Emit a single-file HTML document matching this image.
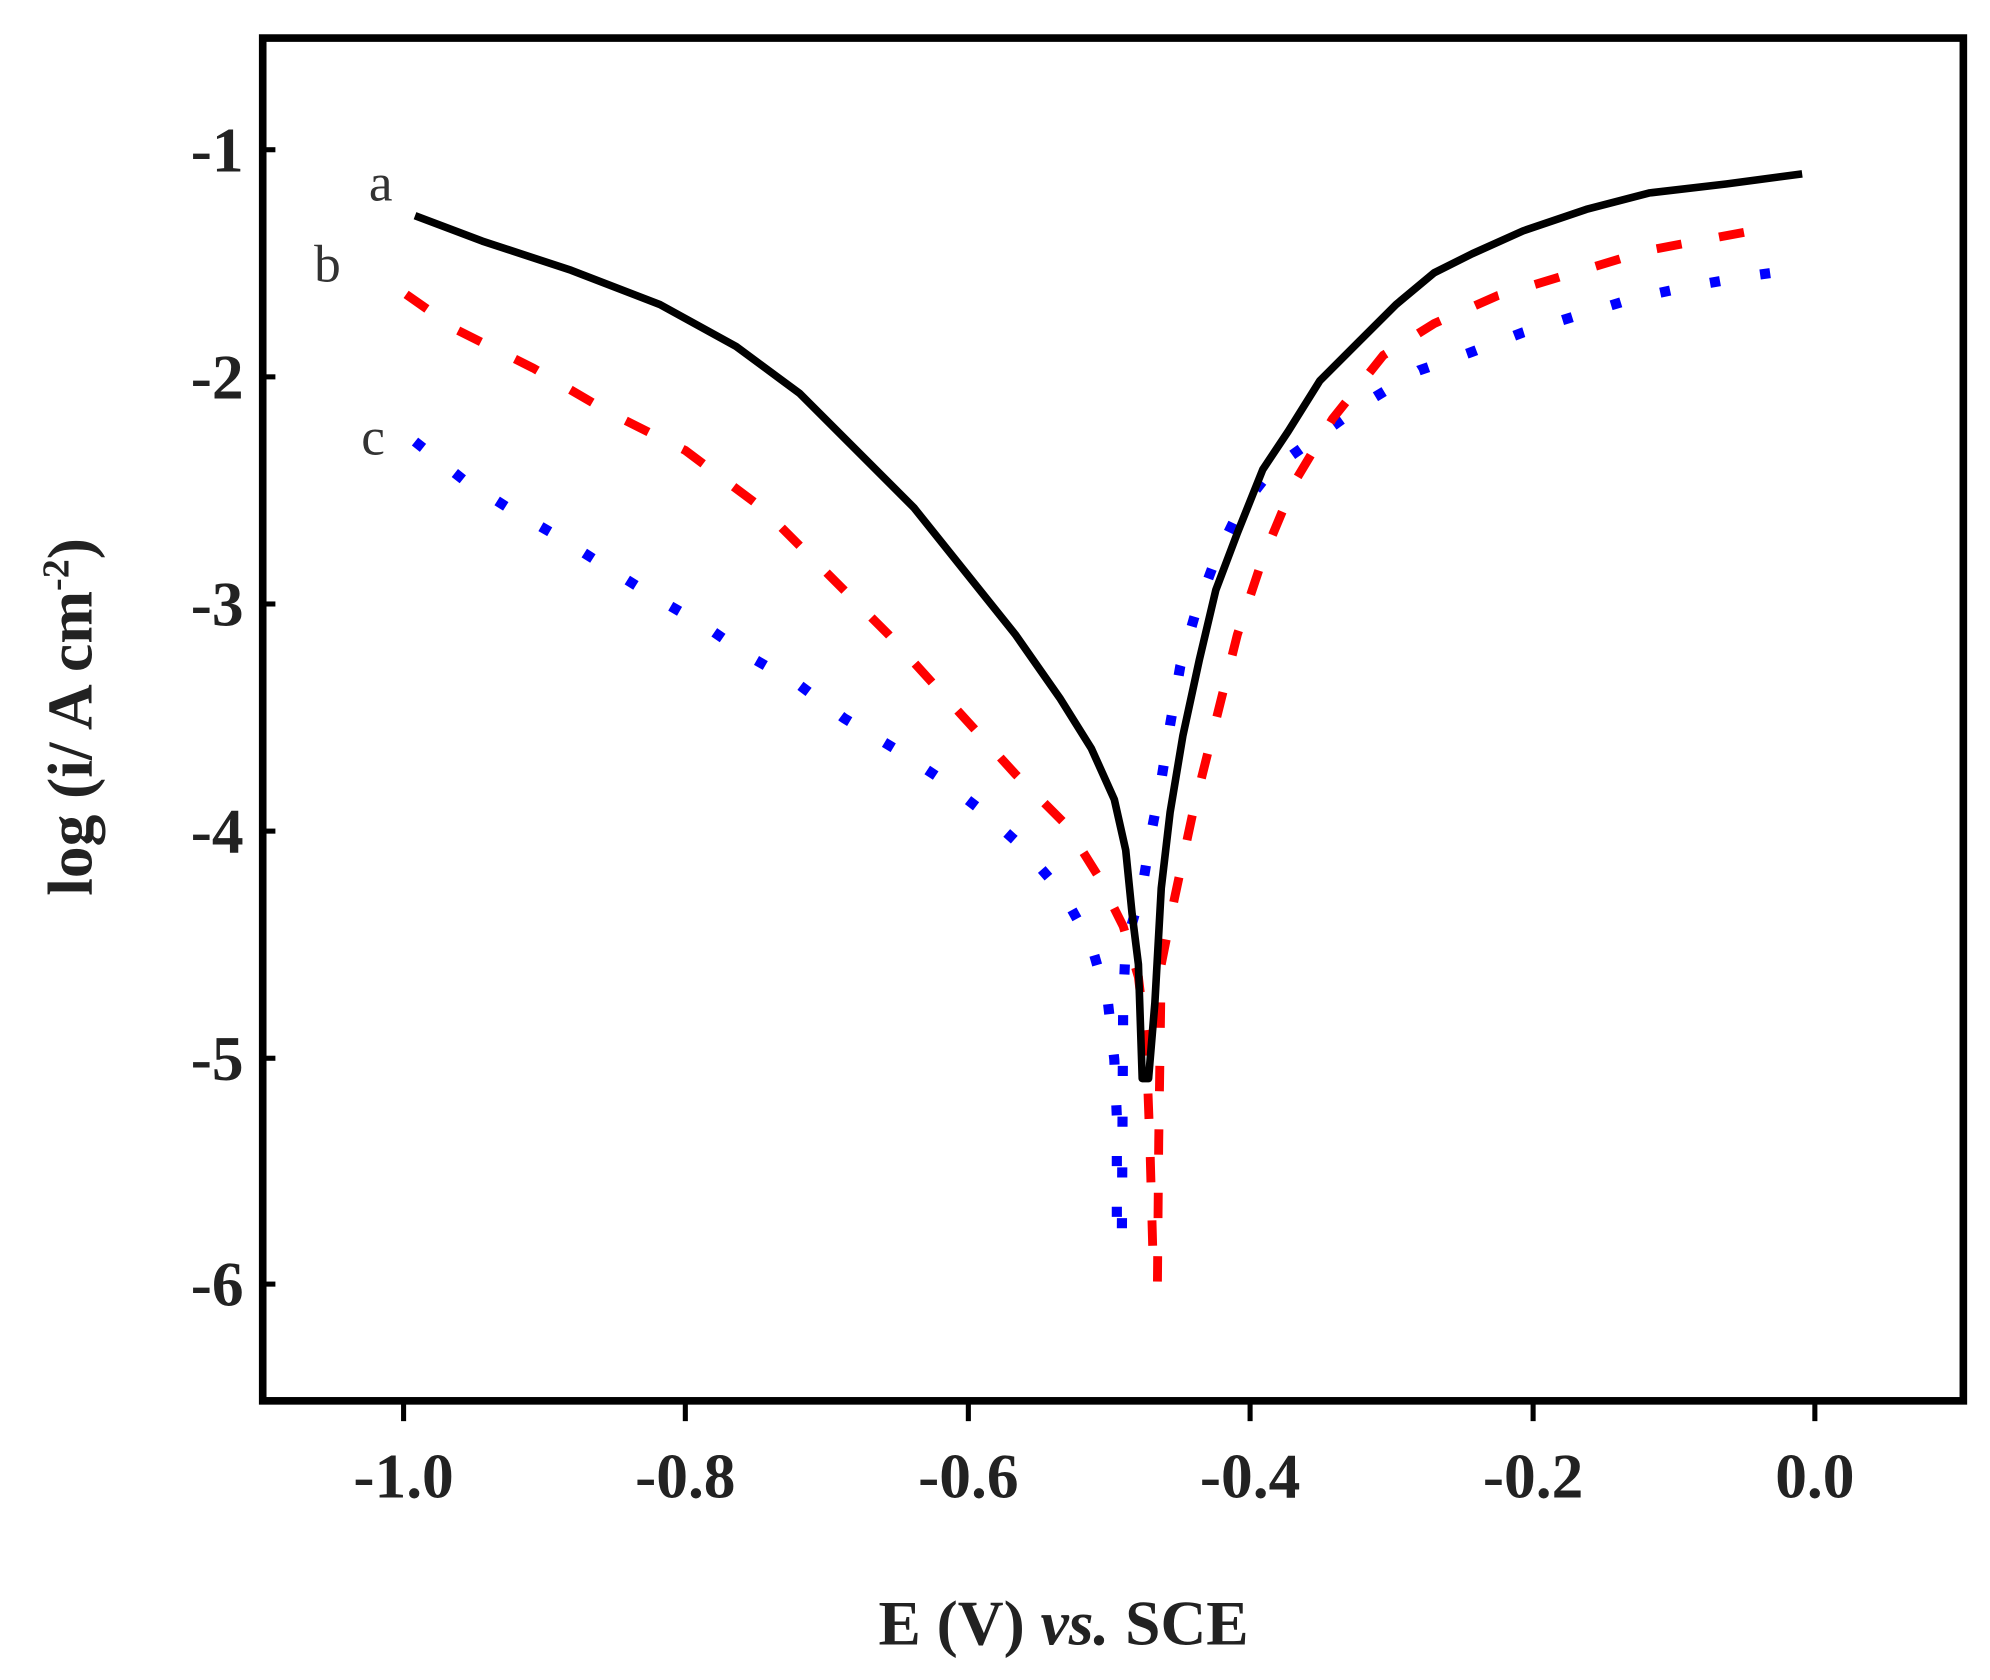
<!DOCTYPE html>
<html><head><meta charset="utf-8"><style>html,body{margin:0;padding:0;background:#fff}svg{display:block}</style></head>
<body>
<svg width="1990" height="1680" viewBox="0 0 1568 1324" preserveAspectRatio="none" xmlns="http://www.w3.org/2000/svg">
<rect x="0" y="0" width="1568" height="1324" fill="#fff"/>
<rect x="207" y="30" width="1340" height="1074" fill="none" stroke="#000" stroke-width="6"/>
<g stroke="#000" stroke-width="4">
<line x1="318" y1="1104" x2="318" y2="1120"/><line x1="540" y1="1104" x2="540" y2="1120"/><line x1="763" y1="1104" x2="763" y2="1120"/><line x1="985" y1="1104" x2="985" y2="1120"/><line x1="1208" y1="1104" x2="1208" y2="1120"/><line x1="1430" y1="1104" x2="1430" y2="1120"/>
<line x1="207" y1="118" x2="217" y2="118"/><line x1="207" y1="297" x2="217" y2="297"/><line x1="207" y1="476" x2="217" y2="476"/><line x1="207" y1="655" x2="217" y2="655"/><line x1="207" y1="834" x2="217" y2="834"/><line x1="207" y1="1012" x2="217" y2="1012"/>
</g>
<g font-family="Liberation Serif, serif" font-weight="bold" font-size="50" fill="#222">
<g text-anchor="end"><text x="192" y="135">-1</text><text x="192" y="314">-2</text><text x="192" y="493">-3</text><text x="192" y="672">-4</text><text x="192" y="851">-5</text><text x="192" y="1029">-6</text></g>
<g text-anchor="middle"><text x="318" y="1180">-1.0</text><text x="540" y="1180">-0.8</text><text x="763" y="1180">-0.6</text><text x="985" y="1180">-0.4</text><text x="1208" y="1180">-0.2</text><text x="1430" y="1180">0.0</text></g>
<text x="838" y="1296" text-anchor="middle">E (V) <tspan font-style="italic">vs.</tspan> SCE</text>
<text transform="translate(72,565) rotate(-90)" text-anchor="middle">log (i/ A cm<tspan dy="-18" font-size="30">-2</tspan><tspan dy="18">)</tspan></text>
</g>
<g font-family="Liberation Serif, serif" font-size="42" fill="#333"><text x="300" y="158" text-anchor="middle">a</text><text x="258" y="222" text-anchor="middle">b</text><text x="294" y="358" text-anchor="middle">c</text></g>
<polyline fill="none" stroke="#00f" stroke-width="8" stroke-dasharray="8 32" points="327,348 365,378 400,400 440,423 478,447 515,470 555,493 590,517 630,540 665,566 705,590 740,613 775,640 805,667 838,705 860,745 873,790 878,835 880,880 880,925 880,968"/>
<polyline fill="none" stroke="#00f" stroke-width="8" stroke-dasharray="8 32" points="884,968 885,790 887,745 900,700 907,657 915,615 922,571 930,525 942,483 958,440 975,405 1002,370 1040,343 1075,318 1118,292 1158,278 1200,262 1245,248 1288,235 1330,226 1375,218 1418,212"/>
<polyline fill="none" stroke="#f00" stroke-width="7" stroke-dasharray="20 30" points="320,232 360,260 420,290 480,325 540,355 600,400 650,450 700,500 750,555 800,610 840,650 865,690 885,730 897,770 903,820 906,900 909,1010"/>
<polyline fill="none" stroke="#f00" stroke-width="7" stroke-dasharray="20 30" points="912,1010 913,900 915,760 925,710 940,640 955,580 975,500 995,440 1020,380 1050,330 1090,280 1130,255 1180,233 1240,215 1300,197 1380,182"/>
<polyline fill="none" stroke="#000" stroke-width="6" stroke-linejoin="round" points="327,170 380,190 450,213 520,240 580,273 630,310 670,350 720,400 760,450 800,500 835,550 860,590 878,630 887,670 892,720 897,760 900,850 905,850 910,790 915,700 922,640 932,580 945,520 958,465 975,420 995,370 1015,340 1040,300 1070,270 1100,240 1130,215 1160,200 1200,182 1250,165 1300,152 1360,145 1420,137"/>
</svg>
</body></html>
